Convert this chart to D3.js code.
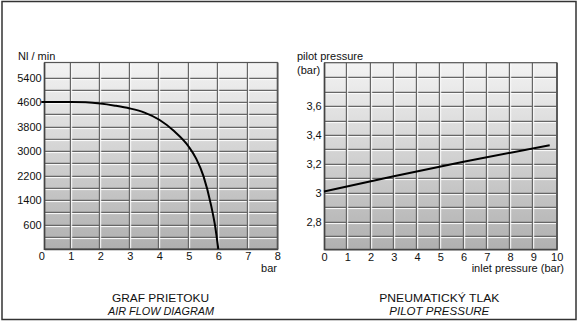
<!DOCTYPE html>
<html><head><meta charset="utf-8">
<script src="https://cdn.jsdelivr.net/npm/d3@7"></script>
<style>html,body{margin:0;padding:0;background:#fff;}svg{display:block;}</style>
</head><body>
<script>
// ---- data ----
const flowX = [0, 1, 1.5, 2, 2.5, 3, 3.5, 4, 4.5, 5, 5.25, 5.5, 5.75, 5.9, 6];
const flowY = [4600, 4600, 4590, 4550, 4480, 4390, 4255, 4020, 3650, 3140, 2750, 2170, 1250, 500, -200];
const flowXTicks = [0,1,2,3,4,5,6,7,8];
const flowYTicks = [600,1400,2200,3000,3800,4600,5400];
const pilotX = [0, 3, 6, 9.7];
const pilotY = [3.01, 3.115, 3.215, 3.33];
const pilotXTicks = [0,1,2,3,4,5,6,7,8,9,10];
const pilotYTicks = [2.8, 3.0, 3.2, 3.4, 3.6];

const W = 578, H = 321;
const svg = d3.select("body").append("svg").attr("width", W).attr("height", H);
const font = "'Liberation Sans', Arial, sans-serif";
const narrow = "'Liberation Sans Narrow', 'Arial Narrow', 'Liberation Sans', Arial, sans-serif";

svg.append("rect").attr("x", 2).attr("y", 1.5).attr("width", 574).attr("height", 318)
  .attr("fill", "none").attr("stroke", "#333").attr("stroke-width", 1.5);

const defs = svg.append("defs");
const grad = defs.append("linearGradient").attr("id", "bg").attr("x1", 0).attr("y1", 0).attr("x2", 0).attr("y2", 1);
grad.append("stop").attr("offset", "0%").attr("stop-color", "#f3f3f3");
grad.append("stop").attr("offset", "100%").attr("stop-color", "#b0b0b0");

function panel(o) {
  const g = svg.append("g");
  const x = o.x, y = o.y;
  const L = o.left, R = x.range()[1], T = y.range()[1], B = y.range()[0];
  g.append("rect").attr("x", L).attr("y", T).attr("width", R - L).attr("height", B - T).attr("fill", "url(#bg)");
  o.hLines.forEach(v => {
    const yy = Math.round(y(v));
    g.append("line").attr("x1", L).attr("x2", R).attr("y1", yy + 0.5).attr("y2", yy + 0.5).attr("stroke", "#666").attr("stroke-width", 1.3);
    g.append("line").attr("x1", L).attr("x2", R).attr("y1", yy + 1.6).attr("y2", yy + 1.6).attr("stroke", "#ffffff").attr("stroke-width", 1);
  });
  o.vLines.forEach(v => {
    const xx = Math.round(x(v));
    g.append("line").attr("y1", T).attr("y2", B).attr("x1", xx - 0.5).attr("x2", xx - 0.5).attr("stroke", "#666").attr("stroke-width", 1.4);
    g.append("line").attr("y1", T).attr("y2", B).attr("x1", xx + 0.7).attr("x2", xx + 0.7).attr("stroke", "#ffffff").attr("stroke-width", 1);
  });
  g.append("rect").attr("x", L).attr("y", T).attr("width", R - L).attr("height", B - T)
    .attr("fill", "none").attr("stroke", "#555").attr("stroke-width", 1.2);
  g.append("line").attr("x1", R + 0.5).attr("x2", R + 0.5).attr("y1", T).attr("y2", B).attr("stroke", "#555").attr("stroke-width", 1.5);
  g.append("line").attr("x1", L).attr("x2", R + 1).attr("y1", B + 0.5).attr("y2", B + 0.5).attr("stroke", "#444").attr("stroke-width", 1.5);
  g.append("line").attr("x1", L - 0.3).attr("x2", L - 0.3).attr("y1", T).attr("y2", B + 1).attr("stroke", "#444").attr("stroke-width", 1.5);

  const ax = g.append("g").attr("transform", `translate(0,${B})`)
    .call(d3.axisBottom(x).tickValues(o.xTicks).tickSize(0).tickPadding(3.5).tickFormat(o.xFmt));
  ax.select(".domain").remove();
  ax.selectAll("text").attr("font-family", font).attr("font-size", 11).attr("fill", "#111");
  const ay = g.append("g").attr("transform", `translate(${L - 3},0)`)
    .call(d3.axisLeft(y).tickValues(o.yTicks).tickSize(0).tickPadding(0).tickFormat(o.yFmt));
  ay.select(".domain").remove();
  ay.selectAll("text").attr("font-family", font).attr("font-size", 11).attr("fill", "#111");

  g.append("path").datum(o.data)
    .attr("d", d3.line().x(d => x(d[0])).y(d => y(d[1])).curve(o.curve))
    .attr("fill", "none").attr("stroke", "#000").attr("stroke-width", 2);
  return g;
}

const fx = d3.scaleLinear().domain([0, 8]).range([41.3, 277.3]);
const fy = d3.scaleLinear().domain([-200, 5890]).range([249, 62.5]);
panel({
  x: fx, y: fy, left: 44.7,
  hLines: d3.range(200, 5401, 400), vLines: [1,2,3,4,5,6,7],
  xTicks: flowXTicks, yTicks: flowYTicks,
  xFmt: d3.format("d"), yFmt: d3.format("d"),
  data: flowX.map((v, i) => [v, flowY[i]]), curve: d3.curveMonotoneX
});

const px = d3.scaleLinear().domain([0, 10]).range([324, 556.7]);
const py = d3.scaleLinear().domain([2.61, 3.9]).range([249.3, 62.7]);
panel({
  x: px, y: py, left: 324.7,
  hLines: d3.range(2.7, 3.85, 0.1), vLines: [1,2,3,4,5,6,7,8,9],
  xTicks: pilotXTicks, yTicks: pilotYTicks,
  xFmt: d3.format("d"), yFmt: v => (Math.round(v * 10) / 10).toString().replace(".", ","),
  data: pilotX.map((v, i) => [v, pilotY[i]]), curve: d3.curveMonotoneX
});

function txt(x, y, s, opt = {}) {
  const t = svg.append("text").attr("x", x).attr("y", y).text(s)
    .attr("font-family", opt.family || font).attr("font-size", opt.size || 11)
    .attr("fill", "#111").attr("text-anchor", opt.anchor || "start");
  if (opt.italic) t.attr("font-style", "italic");
  if (opt.len) t.attr("textLength", opt.len).attr("lengthAdjust", "spacingAndGlyphs");
  return t;
}
txt(18, 60, "Nl / min");
txt(297, 60, "pilot pressure");
txt(297, 74, "(bar)");
txt(277, 272, "bar", { anchor: "end" });
txt(564, 272, "inlet pressure (bar)", { anchor: "end" });

txt(160.5, 302, "GRAF PRIETOKU", { anchor: "middle", size: 11.5, family: narrow, len: 97 });
txt(161, 315, "AIR FLOW DIAGRAM", { anchor: "middle", size: 11.5, family: narrow, italic: true, len: 106 });
txt(439.3, 302, "PNEUMATICKÝ TLAK", { anchor: "middle", size: 11.5, family: narrow, len: 120 });
txt(439.3, 315, "PILOT PRESSURE", { anchor: "middle", size: 11.5, family: narrow, italic: true, len: 100 });
</script>
</body></html>
